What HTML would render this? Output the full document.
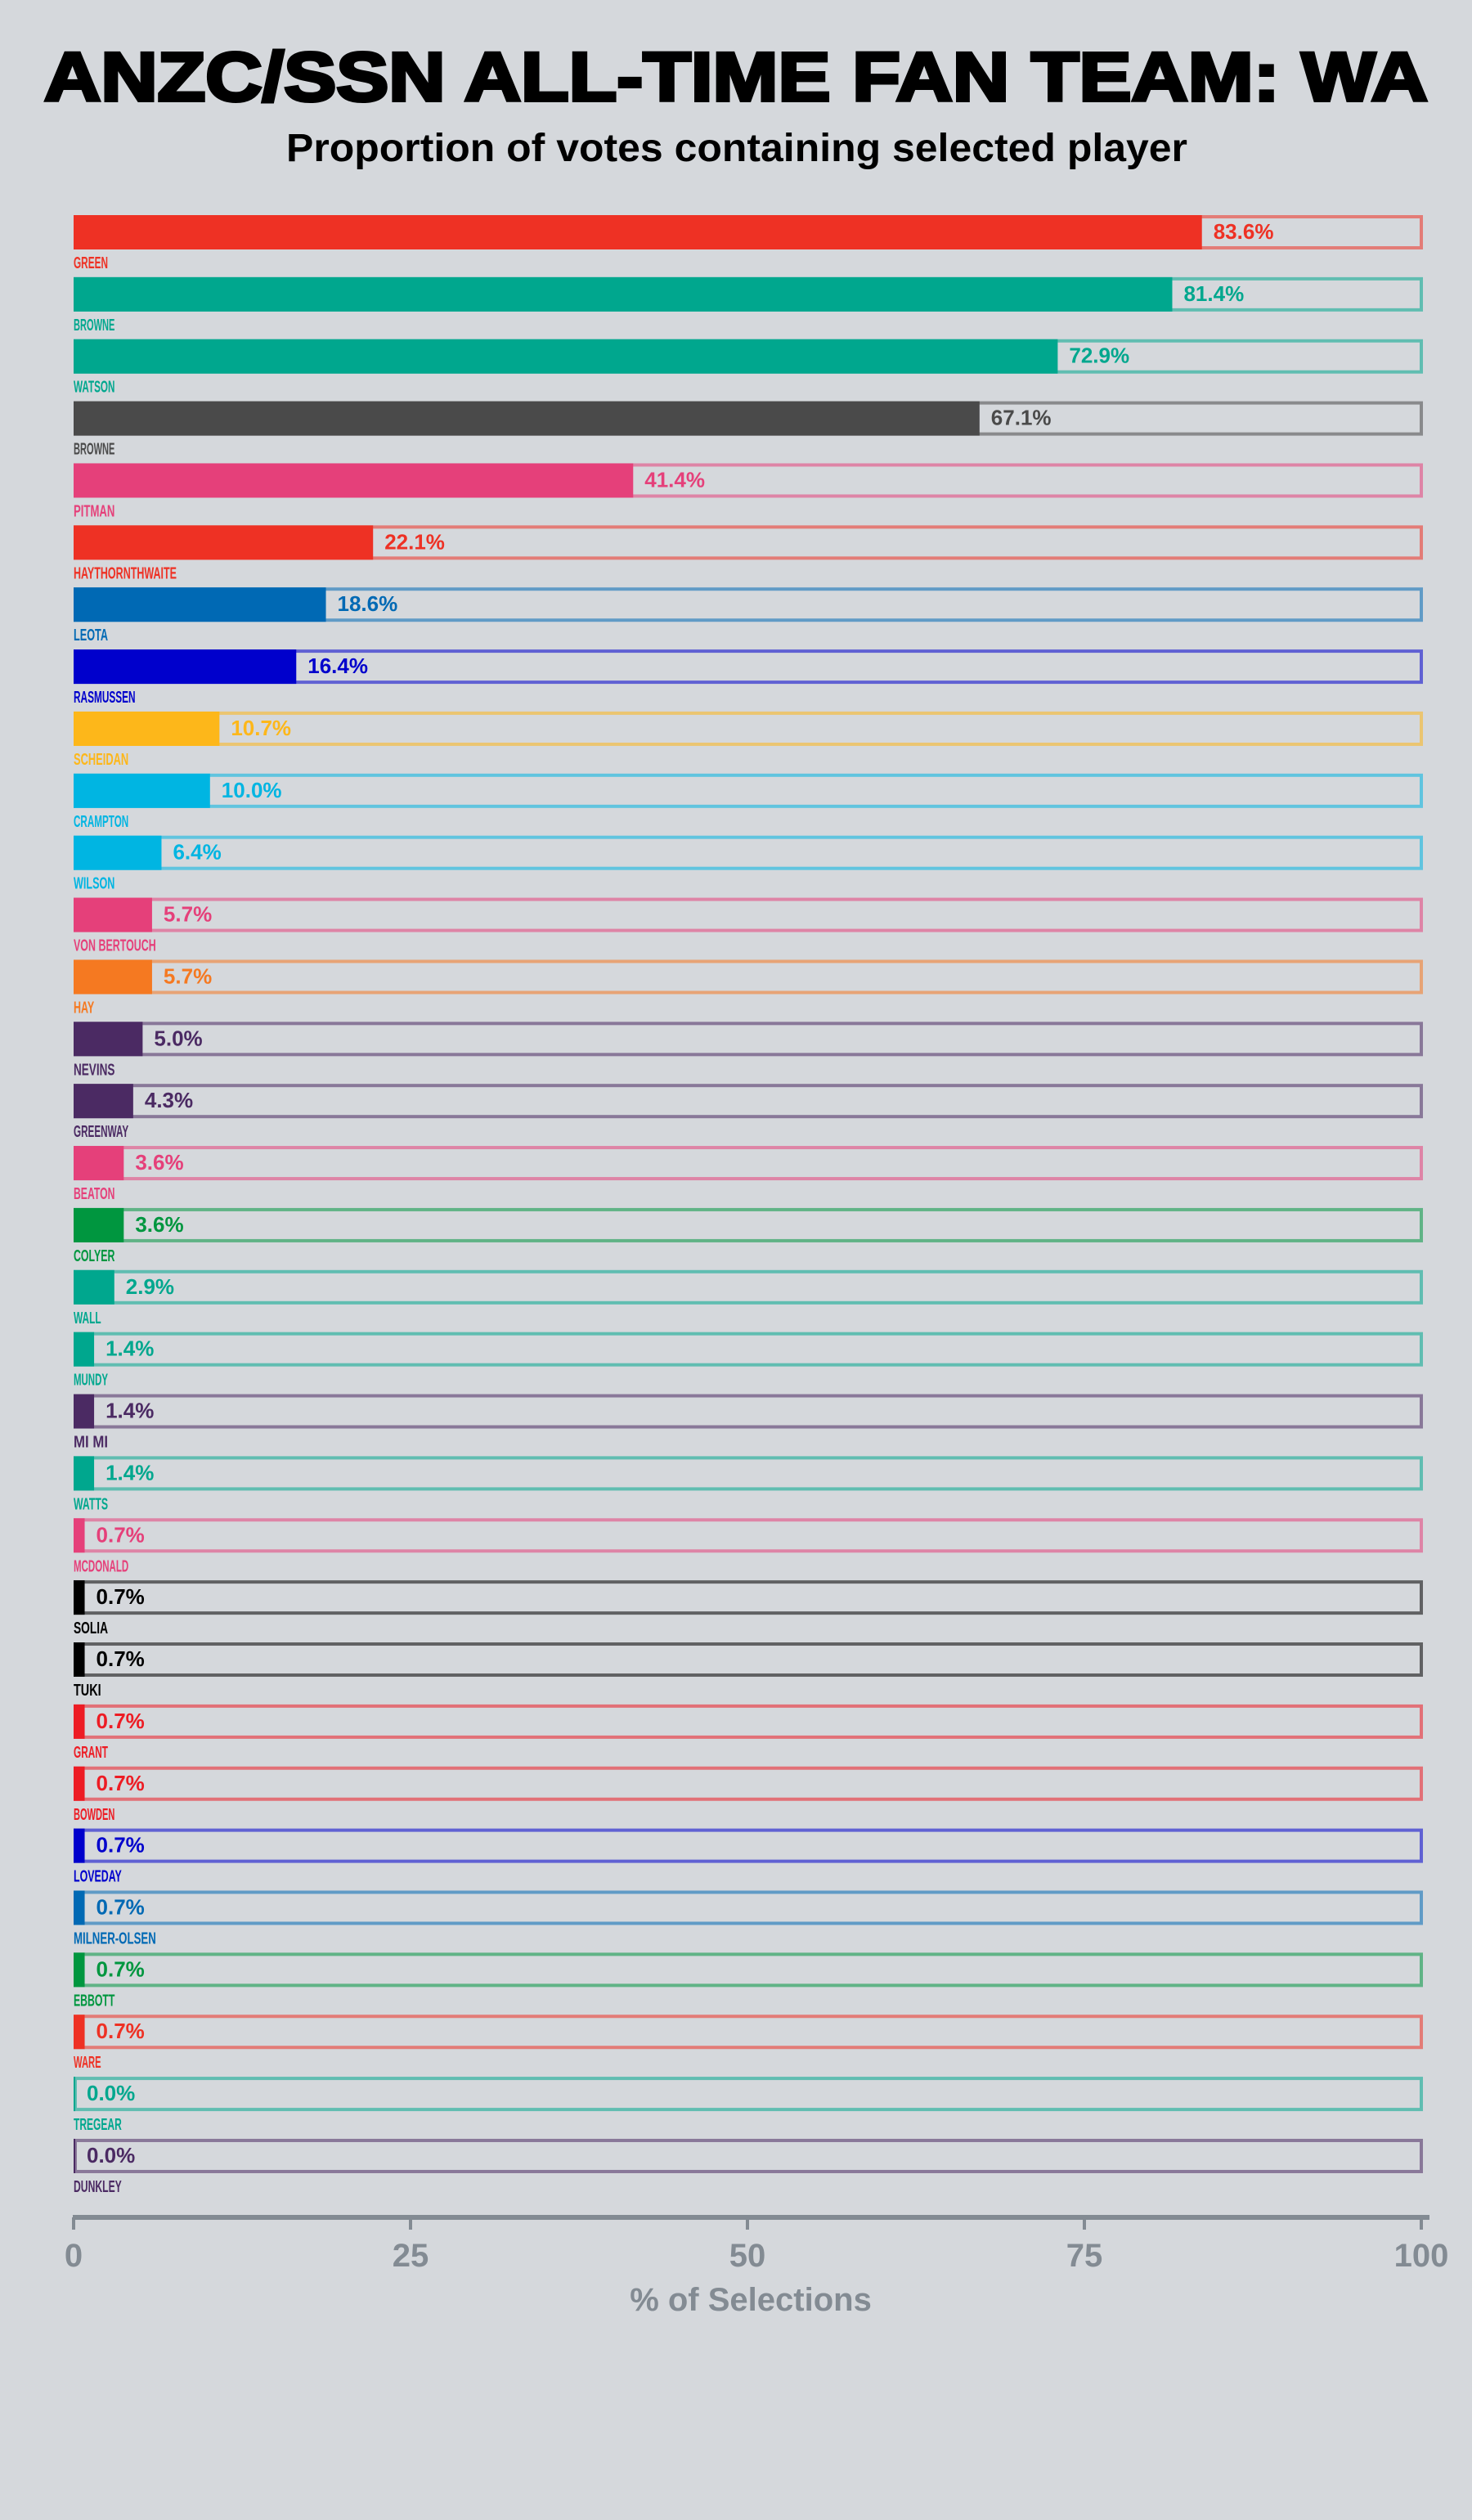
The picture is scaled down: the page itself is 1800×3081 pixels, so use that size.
<!DOCTYPE html>
<html><head><meta charset="utf-8"><style>
html,body{margin:0;padding:0;background:#d5d8dc;}
svg{display:block;}
</style></head><body>
<svg id="chart" width="1800" height="3081" viewBox="0 0 1800 3081" xmlns="http://www.w3.org/2000/svg">
<rect width="1800" height="3081" fill="#d5d8dc"/>
<text x="900" y="123" text-anchor="middle" font-family="Liberation Sans, sans-serif" font-weight="bold" font-size="84" textLength="1692" lengthAdjust="spacingAndGlyphs" fill="#000" stroke="#000" stroke-width="4">ANZC/SSN ALL-TIME FAN TEAM: WA</text>
<text x="901" y="197" text-anchor="middle" font-family="Liberation Sans, sans-serif" font-weight="bold" font-size="48" textLength="1102" lengthAdjust="spacingAndGlyphs" fill="#000">Proportion of votes containing selected player</text>
<g id="bars"></g>
<g id="axis"></g>
<text x="918" y="2825" text-anchor="middle" font-family="Liberation Sans, sans-serif" font-weight="bold" font-size="40" fill="#838b93">% of Selections</text>
</svg>
<script>
const names = ["GREEN","BROWNE","WATSON","BROWNE","PITMAN","HAYTHORNTHWAITE","LEOTA","RASMUSSEN","SCHEIDAN","CRAMPTON","WILSON","VON BERTOUCH","HAY","NEVINS","GREENWAY","BEATON","COLYER","WALL","MUNDY","MI MI","WATTS","MCDONALD","SOLIA","TUKI","GRANT","BOWDEN","LOVEDAY","MILNER-OLSEN","EBBOTT","WARE","TREGEAR","DUNKLEY"];
const values = [83.6,81.4,72.9,67.1,41.4,22.1,18.6,16.4,10.7,10.0,6.4,5.7,5.7,5.0,4.3,3.6,3.6,2.9,1.4,1.4,1.4,0.7,0.7,0.7,0.7,0.7,0.7,0.7,0.7,0.7,0.0,0.0];
const colors = ["#ee3124","#00a78e","#00a78e","#4a4a4a","#e5407a","#ee3124","#0069b4","#0000cc","#fdb71a","#00b5e2","#00b5e2","#e5407a","#f57921","#4b2a63","#4b2a63","#e5407a","#00963f","#00a78e","#00a78e","#4b2a63","#00a78e","#e5407a","#000000","#000000","#ed1c24","#ed1c24","#0000cc","#0069b4","#00963f","#ee3124","#00a78e","#4b2a63"];
const ticks = [0,25,50,75,100];

const NS = "http://www.w3.org/2000/svg";
const x0 = 90, x1 = 1738;
const xs = v => x0 + (x1 - x0) * v / 100;
const rowTop = i => 263 + 75.87 * i;
const BH = 42;
function mk(tag, attrs, parent){const e=document.createElementNS(NS,tag);for(const k in attrs)e.setAttribute(k,attrs[k]);parent.appendChild(e);return e;}
const g = document.getElementById('bars');
names.forEach((n,i)=>{
  const t = rowTop(i), c = colors[i];
  const row = mk('g',{},g);
  
  
  const o = mk('rect',{x:x0+2,y:t+2,width:x1-x0-2,height:BH-4,fill:'none',stroke:c,'stroke-opacity':0.55,'stroke-width':4},row);
  
  
  const w = Math.max(xs(values[i]) - x0 + 2, 2);
  const b = mk('rect',{x:x0,y:t,width:w,height:BH,fill:c},row);
  
  
  const vt = mk('text',{x:x0+w+14,y:t+29,fill:c,'font-family':'Liberation Sans, sans-serif','font-weight':'bold','font-size':26},row);
  vt.textContent = values[i].toFixed(1) + '%';
  
  
  const nt = mk('text',{x:x0,y:t+BH+23,fill:c,'font-family':'Liberation Sans, sans-serif','font-weight':'bold','font-size':20,textLength:n.length*8.4,lengthAdjust:'spacingAndGlyphs'},row);
  nt.textContent = n;
  
  
});
const ax = document.getElementById('axis');
mk('rect',{x:x0-1,y:2708,width:1749-x0,height:6,fill:'#838b93'},ax);
ticks.forEach(v=>{
  const tk = mk('rect',{x:xs(v)-2,y:2711,width:4,height:15,fill:'#838b93'},ax);
  
  
  const tl = mk('text',{x:xs(v),y:2771,'text-anchor':'middle',fill:'#838b93','font-family':'Liberation Sans, sans-serif','font-weight':'bold','font-size':40},ax);
  tl.textContent = v;
  
  
});
</script>
</body></html>
